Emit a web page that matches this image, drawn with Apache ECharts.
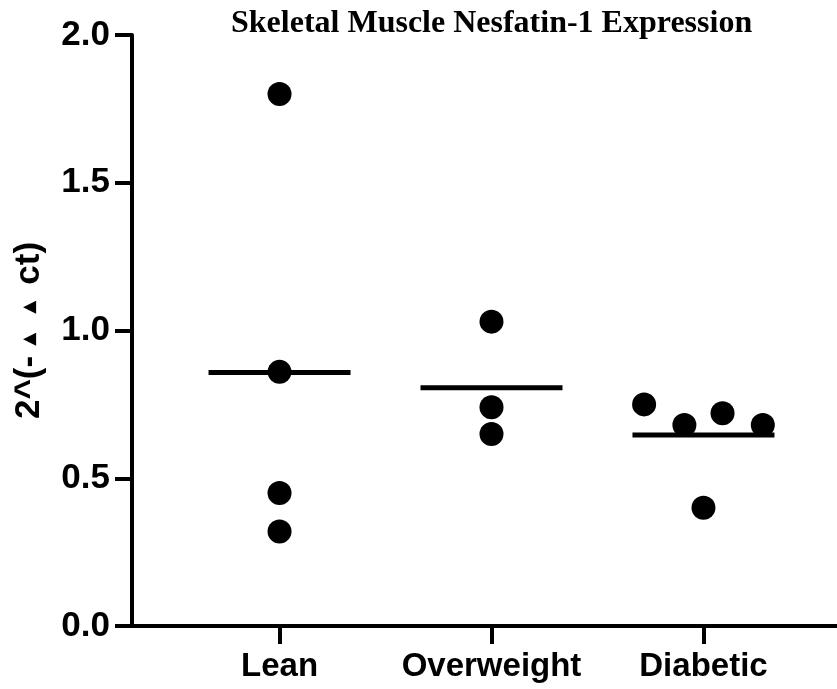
<!DOCTYPE html>
<html>
<head>
<meta charset="utf-8">
<script src="https://cdn.jsdelivr.net/npm/echarts@6/dist/echarts.min.js"></script>
<style>
  html, body { margin: 0; padding: 0; background: #fff; }
  #chart { width: 837px; height: 689px; }
</style>
</head>
<body>
<div id="chart"></div>
<script>
// Groups and their measured relative expression values
const groups = ['Lean', 'Overweight', 'Diabetic'];
const leanValues = [1.80, 0.86, 0.45, 0.32];
const overweightValues = [1.03, 0.74, 0.65];
const diabeticValues = [0.75, 0.68, 0.72, 0.68, 0.40];
// Horizontal scatter of points inside each group (in category units)
const leanSpread = [0, 0, 0, 0];
const overweightSpread = [0, 0, 0];
const diabeticSpread = [-0.28, -0.09, 0.09, 0.28, 0];
const yTicks = [0, 0.5, 1.0, 1.5, 2.0];

const groupValues = [leanValues, overweightValues, diabeticValues];
const groupSpread = [leanSpread, overweightSpread, diabeticSpread];

const points = [];
groupValues.forEach((vals, gi) => {
  vals.forEach((v, i) => points.push([gi + 1 + groupSpread[gi][i], v]));
});
const means = groupValues.map((vals, gi) => [gi + 1, vals.reduce((a, b) => a + b, 0) / vals.length]);

const chart = echarts.init(document.getElementById('chart'), null, { renderer: 'canvas' });
const labelFont = '"Liberation Sans", Arial, Helvetica, sans-serif';

chart.setOption({
  animation: false,
  backgroundColor: '#ffffff',
  title: {
    text: 'Skeletal Muscle Nesfatin-1 Expression',
    left: 231,
    top: 8,
    padding: 0,
    textStyle: {
      fontFamily: '"Liberation Serif", "Times New Roman", serif',
      fontWeight: 'bold',
      fontSize: 32,
      color: '#000'
    }
  },
  grid: { left: 132, right: 0, top: 35, bottom: 63, containLabel: false, outerBoundsMode: 'none' },
  xAxis: {
    type: 'value',
    min: 0.304,
    max: 3.63,
    splitLine: { show: false },
    axisLine: { show: true, onZero: false, lineStyle: { color: '#000', width: 4 } },
    axisTick: {
      show: true,
      length: 18,
      customValues: [1, 2, 3],
      lineStyle: { color: '#000', width: 4 }
    },
    axisLabel: {
      show: true,
      customValues: [1, 2, 3],
      margin: 24,
      formatter: v => groups[Math.round(v) - 1] || '',
      fontFamily: labelFont,
      fontWeight: 'bold',
      fontSize: 33,
      color: '#000'
    }
  },
  yAxis: {
    type: 'value',
    min: 0,
    max: 2,
    interval: 0.5,
    splitLine: { show: false },
    axisLine: { show: true, lineStyle: { color: '#000', width: 4 } },
    axisTick: { show: true, length: 17, lineStyle: { color: '#000', width: 4 } },
    axisLabel: {
      margin: 22,
      formatter: v => v.toFixed(1),
      fontFamily: labelFont,
      fontWeight: 'bold',
      fontSize: 35,
      color: '#000'
    },
    name: '2^(-{t1|▲}{t2|▲}ct)',
    nameLocation: 'middle',
    nameRotate: 90,
    nameGap: 85,
    nameTextStyle: {
      fontFamily: labelFont,
      fontWeight: 'bold',
      fontSize: 35,
      color: '#000',
      rich: {
        t1: { fontFamily: '"DejaVu Sans", sans-serif', fontSize: 17, color: '#000', padding: [0, 9, 0, 10] },
        t2: { fontFamily: '"DejaVu Sans", sans-serif', fontSize: 17, color: '#000', padding: [0, 16, 0, 10] }
      }
    }
  },
  series: [
    {
      name: 'mean',
      type: 'scatter',
      data: means,
      symbol: 'rect',
      symbolSize: [142, 5],
      itemStyle: { color: '#000', opacity: 1 },
      z: 2,
      silent: true
    },
    {
      name: 'samples',
      type: 'scatter',
      data: points,
      symbol: 'circle',
      symbolSize: 24,
      itemStyle: { color: '#000', opacity: 1 },
      z: 3,
      silent: true
    }
  ]
});
</script>
</body>
</html>
